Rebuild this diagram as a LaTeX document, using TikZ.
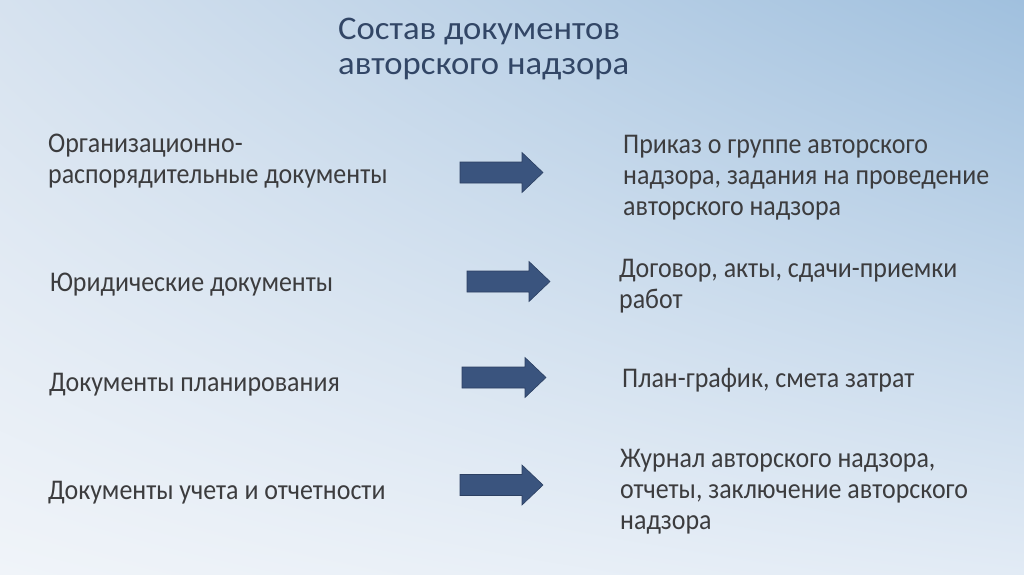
\documentclass[tikz,border=0pt]{standalone}
\usepackage{fontspec}
\setmainfont{Carlito}
\newfontfamily\bodyfam[FakeStretch=0.91]{Carlito}
\newfontfamily\titlefam[FakeStretch=1.05]{Carlito}
\usetikzlibrary{shadings}
\definecolor{bodytxt}{RGB}{60,60,62}
\definecolor{titletxt}{RGB}{50,70,102}
\definecolor{arrfill}{RGB}{58,84,126}
\definecolor{arrline}{RGB}{44,64,98}
\definecolor{bgUL}{RGB}{214,226,239}
\definecolor{bgUR}{RGB}{160,192,222}
\definecolor{bgLL}{RGB}{240,244,249}
\definecolor{bgLR}{RGB}{226,235,245}
\newcommand\blkarrow[4]{% name, left x, tip x, centre y
  \draw[blockarrow] (#2,#4-10.5) -- (#3-21,#4-10.5) -- (#3-21,#4-20) -- (#3,#4)
    -- (#3-21,#4+20) -- (#3-21,#4+10.5) -- (#2,#4+10.5) -- cycle;
  \coordinate (#1) at (#2,#4);}
\newcommand\tlines[1]{\begin{tabular}[t]{@{}l@{}}#1\end{tabular}}
\begin{document}
\begin{tikzpicture}[x=1pt,y=-1pt,
  bodytext/.style={anchor=base west,inner sep=0pt,text=bodytxt,
    font=\bodyfam\fontsize{28.5}{31}\selectfont},
  titletext/.style={anchor=base west,inner sep=0pt,text=titletxt,
    font=\titlefam\fontsize{33}{35}\selectfont},
  blockarrow/.style={fill=arrfill,draw=arrline,line width=0.6pt,line join=miter}]
\useasboundingbox (0,0) rectangle (1024,574);
\shade[upper left=bgUL,upper right=bgUR,lower left=bgLL,lower right=bgLR]
  (0,0) rectangle (1024,574);

\node[titletext] (title) at (338,39) {\tlines{Состав документов\\авторского надзора}};

\node[bodytext] (l1) at (48,152) {\tlines{Организационно-\\распорядительные документы}};
\node[bodytext] (l2) at (50,291) {Юридические документы};
\node[bodytext] (l3) at (49,391) {Документы планирования};
\node[bodytext] (l4) at (48,499) {Документы учета и отчетности};

\node[bodytext] (r1) at (623,153) {\tlines{Приказ о группе авторского\\надзора, задания на проведение\\авторского надзора}};
\node[bodytext] (r2) at (619,277) {\tlines{Договор, акты, сдачи-приемки\\работ}};
\node[bodytext] (r3) at (622,387) {План-график, смета затрат};
\node[bodytext] (r4) at (620,467) {\tlines{Журнал авторского надзора,\\отчеты, заключение авторского\\надзора}};

\blkarrow{a1}{460}{543}{172.5}
\blkarrow{a2}{467}{550}{281.5}
\blkarrow{a3}{462}{546}{377.5}
\blkarrow{a4}{460}{543}{485}
\end{tikzpicture}
\end{document}
